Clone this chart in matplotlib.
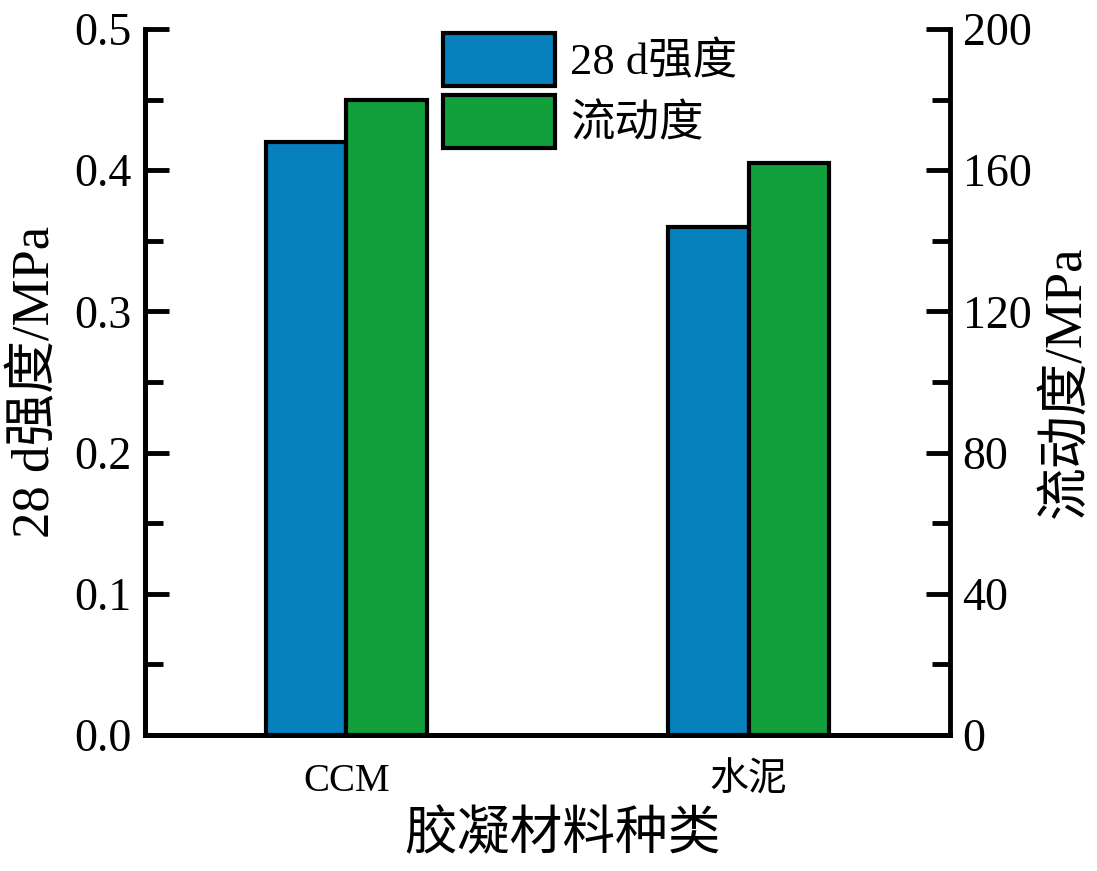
import numpy as np
import matplotlib
matplotlib.use("Agg")
import matplotlib.pyplot as plt
from matplotlib.ticker import MultipleLocator
from matplotlib.patches import Patch

plt.rcParams['font.family'] = ['Liberation Serif', 'Noto Sans CJK SC']
plt.rcParams['axes.unicode_minus'] = False

# data
categories = ['CCM', '水泥']
strength_28d = [0.42, 0.36]      # left axis, MPa
fluidity = [180, 162]            # right axis
series_names = ['28 d强度', '流动度']

blue = '#0780be'
green = '#11a03c'

fig = plt.figure(figsize=(10.97, 8.71), dpi=100)
ax = fig.add_axes([0.1322, 0.1561, 0.7338, 0.8106])
ax2 = ax.twinx()

x = np.arange(len(categories))
w = 0.2
ax.bar(x - w / 2, strength_28d, w, color=blue, edgecolor='black', linewidth=3, zorder=3)
ax2.bar(x + w / 2, fluidity, w, color=green, edgecolor='black', linewidth=3, zorder=3)

ax.set_xlim(-0.5, 1.5)
ax.set_ylim(0, 0.5)
ax2.set_ylim(0, 200)
ax.yaxis.set_major_locator(MultipleLocator(0.1))
ax.yaxis.set_minor_locator(MultipleLocator(0.05))
ax2.yaxis.set_major_locator(MultipleLocator(40))
ax2.yaxis.set_minor_locator(MultipleLocator(20))
ax.yaxis.set_major_formatter(plt.FormatStrFormatter('%.1f'))

for a in (ax, ax2):
    a.spines['top'].set_visible(False)
    for s in ('left', 'right', 'bottom'):
        a.spines[s].set_linewidth(3.5)
ax.spines['right'].set_visible(False)

ax.tick_params(axis='y', which='major', direction='in', length=17, width=3.5, labelsize=33, pad=10)
ax.tick_params(axis='y', which='minor', direction='in', length=13, width=3.5)
ax2.tick_params(axis='y', which='major', direction='in', length=17, width=3.5, labelsize=33, pad=9)
ax2.tick_params(axis='y', which='minor', direction='in', length=13, width=3.5)
ax.set_xticks(x)
ax.set_xticklabels(categories)
ax.tick_params(axis='x', length=0, labelsize=28, pad=20)

ax.set_xlabel('胶凝材料种类', fontsize=38, labelpad=8)
ax.xaxis.label.set_x(0.519)
ax.set_ylabel('28 d强度/MPa', fontsize=38, labelpad=10)
ax2.set_ylabel('流动度/MPa', fontsize=38, labelpad=8)

handles = [Patch(facecolor=blue, edgecolor='black', linewidth=3),
           Patch(facecolor=green, edgecolor='black', linewidth=3)]
fig.legend(handles, series_names, loc='upper left', bbox_to_anchor=(0.388, 0.982),
           frameon=False, fontsize=32, handlelength=2.5, handleheight=1.45,
           handletextpad=0.35, labelspacing=0.2, borderaxespad=0)

fig.savefig('out.png', dpi=100)
